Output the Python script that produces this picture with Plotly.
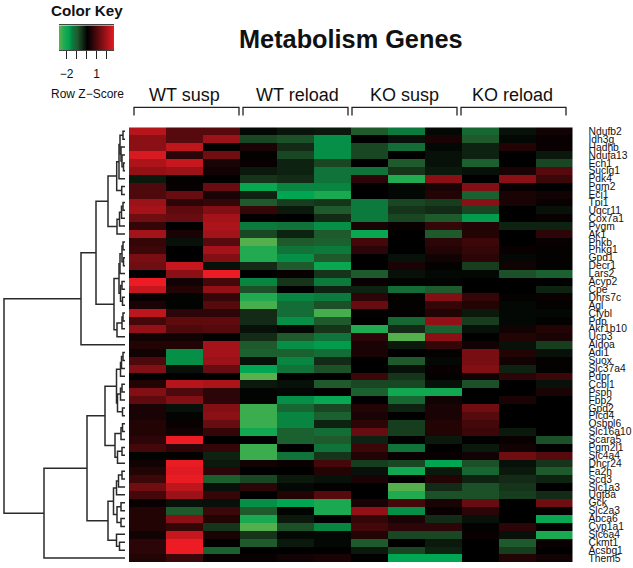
import plotly.graph_objects as go

W, H = 633, 568

genes = ["Ndufb2","Idh3g","Hadhb","Ndufa13","Ech1","Suclg1","Pdk4","Pgm2","Eci1","Tpi1","Uqcr11","Cox7a1","Pygm","Ak1",
         "Phkb","Phkg1","Gpd1","Decr1","Lars2","Acyp2","Cpe","Dhrs7c","Agl","Cfybl","Pdp","Akr1b10","Ucp3","Aldoa",
         "Adi1","Suox","Slc37a4","Pdpr","Ccbl1","Psph","Fbp2","Gpd2","Plcd4","Osbpl6","Slc16a10","Scara5","Pgm2l1",
         "Slc4a4","Dhcr24","Fa2h","Scd3","Slc1a3","Ugt8a","Gck","Slc2a3","Abca6","Cyp1a1","Slc6a4","Ckmt1","Acsbg1","Them5"]

group_names = ["WT susp", "WT reload", "KO susp", "KO reload"]

wt_susp = [[2.1,1.0,1.0],[1.6,1.0,1.8],[1.6,2.2,.05],[2.5,.5,1.3],[2.0,2.3,.3],[1.7,1.8,.2],[-.3,.05,.03],
           [.9,.1,1.2],[.9,1.2,.3],[1.8,.5,.6],[1.9,1.1,1.5],[1.3,1.2,1.9],[.6,0,2.0],[1.9,.3,1.9],
           [.6,-.2,1.0],[.7,0,1.9],[1.4,0,1.5],[1.3,2.3,-.2],[0,1.6,2.75],[2.75,.2,.8],[2.3,.4,1.7],
           [.1,-.05,.6],[.3,-.05,1.0],[2.2,.5,.5],[.8,1.1,1.1],[1.7,.9,1.0],[.2,.2,.05],[.4,.4,1.9],
           [.2,-1.7,1.9],[.9,-1.7,1.8],[1.5,-.2,1.2],[0,0,0],[.4,2.1,2.0],[1.5,.9,.5],[1.1,1.5,.5],
           [.3,-.2,1.5],[.3,-.05,1.6],[.4,.1,1.2],[.4,.2,.6],[.5,2.75,0],[.8,.5,.6],[-.05,.05,-.4],
           [.2,2.7,-.3],[.4,2.6,.5],[.7,2.7,-1.1],[1.3,2.2,-.2],[.8,1.8,.6],[.1,-.2,-.2],[.4,-1.0,.7],
           [.4,1.6,.4],[.4,.6,-.6],[.2,2.3,.3],[.5,2.75,0],[.5,2.75,-1.1],[.4,.7,.1]]

wt_reload = [[-.1,-.25,-.3],[-.8,-.9,-1.7],[.3,-.5,-1.7],[.05,-.8,-1.7],[.1,-.4,-.8],[-.3,-.4,-1.4],[-.6,-.5,-1.4],
             [-2.0,-1.6,-1.6],[-.4,-1.9,-2.2],[-1.0,-.7,-.6],[.6,-.3,-1.0],[.05,0,-.5],[-1.5,-1.4,-1.7],[-.8,-.4,-1.0],
             [-2.7,-1.0,-1.1],[-2.3,-1.4,-1.5],[-2.3,-1.7,-1.0],[-.5,-1.0,-2.0],[0,.1,-.6],[-1.6,-.6,-1.5],[-.9,0,-.4],
             [-2.3,-1.6,-1.5],[-2.6,-1.3,-.9],[-.5,-1.3,-2.6],[-.5,-1.7,-1.0],[-.2,-.1,-.6],[-.5,-1.0,-1.4],[-1.0,-1.7,-1.8],
             [-1.1,-1.1,-1.3],[-.2,-1.6,-.5],[-1.9,-1.4,-.9],[-2.75,0,0],[-.3,-.2,-1.0],[-.05,-.1,.05],[-.05,-1.7,-2.0],
             [-2.5,-1.2,-.8],[-2.5,-1.6,-1.1],[-2.5,-1.6,-.4],[-2.1,-1.1,-1.3],[0,-1.1,-1.0],[-2.5,0,-1.4],[-2.5,-1.4,-.6],
             [.2,.1,.8],[0,0,.4],[-.8,-.3,-.2],[.5,-.1,.05],[0,.4,1.0],[-1.7,-1.9,-2.2],[-1.0,-.05,-2.2],
             [-2.2,-.3,0],[-2.7,-.9,-1.6],[-.6,-.1,-.1],[-1.0,-.3,-.1],[0,0,0],[.1,.2,.3]]

ko_susp = [[-1.0,-1.5,-.1],[0,-.2,.3],[-.8,-1.3,-.1],[-.8,0,-.2],[0,-1.0,-.2],[-1.4,-.6,-.3],[.5,-2.3,1.6],
           [0,-.1,.3],[0,-.1,.4],[-1.5,-.8,-.7],[-1.5,-.6,-.5],[-1.5,-.8,-1.0],[.3,.1,.6],[-2.0,0,-1.0],
           [.8,0,.5],[.5,0,.4],[0,-.2,.2],[0,.3,.05],[-1.0,-.2,-.1],[.1,-.05,-.05],[-.4,-1.3,-1.0],
           [.5,.05,1.5],[1.2,.05,.6],[.05,.05,.4],[0,-1.2,1.7],[-2.3,-.5,-1.1],[.5,-2.7,1.6],[.3,-.3,.6],
           [.3,0,.05],[0,-1.0,-.1],[0,-.2,.1],[.7,-.6,.05],[-.8,-.8,-.2],[-1.1,-2.1,-2.1],[0,-1.2,.2],
           [.4,-.4,.3],[.3,0,.3],[.5,-.7,.4],[1.2,-.7,.4],[-.4,0,-.3],[.7,-1.4,0],[.4,.1,.1],
           [-.7,-.8,-1.9],[-.2,-2.1,-.3],[.3,0,.4],[0,-2.7,-.5],[0,-2.3,-.9],[.3,.8,.3],[1.7,-1.7,.1],
           [.6,.3,-.5],[.8,.5,.5],[.4,-.8,-.8],[-1.0,0,-.3],[-.3,-.8,-.4],[0,-1.9,-1.9]]

ko_reload = [[-1.2,-.2,.2],[-1.0,-.1,.1],[-.4,.4,.1],[-.4,0,-.3],[-1.1,0,-.8],[-.2,.3,1.0],[0,1.6,.7],
             [1.5,.1,0],[-1.1,.3,.2],[1.6,.3,.1],[-.8,0,-.2],[-1.8,0,.1],[.4,-.4,-.4],[.4,0,.5],
             [.7,0,.1],[.6,.1,.05],[.5,-.1,.05],[-.7,.2,.05],[-.1,-.9,-1.1],[0,0,0],[0,0,-.4],
             [.6,.05,.1],[.4,-.1,.05],[-.3,-.1,-.1],[-.7,-.1,.05],[-.2,.2,.4],[0,.4,.3],[.2,-.2,-.7],
             [1.4,.4,-.2],[1.4,.2,.05],[1.5,-.4,.05],[.2,.5,.7],[-.9,0,-.2],[0,0,.3],[0,.3,0],
             [1.3,0,0],[1.0,0,0],[.8,0,0],[.7,-.3,0],[0,.1,-.9],[-.3,.2,0],[.2,1.3,1.0],
             [-.9,-.2,-.6],[-1.2,-.3,-1.0],[-.4,-.5,-.4],[-.9,-.6,0],[-.9,-.7,-.5],[1.2,0,1.3],[.5,0,.05],
             [-.2,0,-2.0],[.05,.5,-.05],[.1,-.2,-2.2],[0,-1.0,.1],[0,-.7,0],[0,.4,.2]]

# Row dendrogram as nested (height, upper, lower); integers are row indices
row_tree = (121,
    (44,
        (29,
            (17,
                (8.3,
                    (6,
                        (5, (2, 0, 1), (4, 2, (3, 3, (1.5, 4, 5)))),
                        6),
                    (3.3, 7, 8)),
                (8, (5.5, (3.5, (2, 9, 10), 11), 12), 13)),
            (11,
                (6,
                    (5, (3, (2, 14, 15), (1.5, 16, 17)), 18),
                    (4.5, (3, 19, 20), (2.5, 21, 22))),
                (8, (3, (2, 23, 24), 25), 26))),
        27),
    (81,
        (38,
            (20,
                (8.5,
                    (4.5, (3.5, (2, 28, 29), 30), 31),
                    (7.5, (4.5, (3, 32, 33), 34), (2.5, 35, 36))),
                (10,
                    (4, (2.5, 37, 38), 39),
                    (7.5, (3, 40, 41), 42))),
            (17,
                (11.5,
                    (8.5, (6.5, (3, 43, 44), 45), 46),
                    (8, (4, 47, 48), (4, 49, 50))),
                (8.5, 51, (5.5, 52, 53)))),
        54))

key_values = [-2.75, -2.25, -1.9, -1.5, -1.0, -0.5, 0, 0.5, 1.0, 1.5, 2.0, 2.4, 2.75]
key_ticks = [-2, -1, 0, 1, 2]
key_tick_labels = ["\u22122", "", "", "1", ""]

ZR = 2.75
def stop(v):
    return (v + ZR) / (2 * ZR)
colorscale = [[stop(-2.75), "#5ab04c"], [stop(-2.3), "#22aa50"], [stop(-1.9), "#00a651"], [stop(-1.5), "#0c7a3d"],
              [stop(-1.0), "#1f5a2c"], [stop(-0.5), "#122a16"], [stop(0), "#000000"], [stop(2.75), "#ed1c24"]]

z = [a + b + c + d for a, b, c, d in zip(wt_susp, wt_reload, ko_susp, ko_reload)]

def X(p): return p / W
def Y(p): return 1 - p / H

HM_L, HM_R, HM_T, HM_B = 129, 572.5, 127, 564

fig = go.Figure()
fig.add_trace(go.Heatmap(z=z, x=list(range(12)), y=genes, zmin=-ZR, zmax=ZR, colorscale=colorscale,
                         showscale=False, xaxis="x", yaxis="y", hoverongaps=False))

# dendrogram segments from the tree
xs, ys = [], []
def walk(node):
    if isinstance(node, int):
        return node, 0
    h, a, b = node
    ya, ha = walk(a)
    yb, hb = walk(b)
    xs.extend([ha, h, h, hb, None])
    ys.extend([ya, ya, yb, yb, None])
    return (ya + yb) / 2, h
walk(row_tree)
fig.add_trace(go.Scatter(x=xs, y=ys, mode="lines", line=dict(color="#2a2a2a", width=1.5),
                         xaxis="x2", yaxis="y2", hoverinfo="skip", showlegend=False))

fig.add_trace(go.Heatmap(z=[key_values], x=key_values, y=[0], zmin=-ZR, zmax=ZR, colorscale=colorscale,
                         zsmooth="best", showscale=False, xaxis="x3", yaxis="y3"))

font = "Liberation Sans, Arial, sans-serif"
fig.update_layout(
    width=W, height=H, margin=dict(l=0, r=0, t=0, b=0), paper_bgcolor="white", plot_bgcolor="white",
    showlegend=False, font=dict(family=font, color="#111111"),
    xaxis=dict(domain=[X(HM_L), X(HM_R)], range=[-0.5, 11.5], visible=False, anchor="y"),
    yaxis=dict(domain=[Y(HM_B), Y(HM_T)], type="category", autorange="reversed", side="right", anchor="x",
               tickmode="array", tickvals=genes, ticktext=genes,
               tickfont=dict(size=10.3, color="#111111", family=font),
               showline=False, showgrid=False, ticks="", ticklabelstandoff=15, zeroline=False),
    xaxis2=dict(domain=[0, X(HM_L)], range=[125, -4], visible=False, anchor="y2"),
    yaxis2=dict(domain=[Y(HM_B), Y(HM_T)], range=[54.5, -0.5], visible=False, anchor="x2"),
    xaxis3=dict(domain=[X(59), X(114)], range=[-ZR, ZR], anchor="y3", side="bottom", tickmode="array",
                tickvals=key_ticks, ticktext=key_tick_labels, ticks="outside", ticklen=8, tickcolor="#222222",
                tickwidth=1, tickfont=dict(size=12), showgrid=False, zeroline=False,
                showline=True, linecolor="#444444", mirror=True, ticklabelstandoff=4),
    yaxis3=dict(domain=[Y(49.7), Y(24.5)], range=[-0.5, 0.5], visible=False, anchor="x3"),
)

def label(text, x, y, size, bold=False):
    fig.add_annotation(text=f"<b>{text}</b>" if bold else text, x=X(x), y=Y(y), xref="paper", yref="paper",
                       xanchor="center", yanchor="middle", showarrow=False, font=dict(size=size, family=font, color="#111111"))

label("Color Key", 87, 10, 15.2, True)
label("Metabolism Genes", 351, 38, 25.3, True)
label("Row Z\u2212Score", 87, 93, 12)
for name, cx in zip(group_names, [184, 297, 405, 512]):
    label(name, cx, 95, 18)

for i in range(4):
    x0 = 134 + 109 * i
    x1 = x0 + 105
    fig.add_shape(type="path", xref="paper", yref="paper",
                  path=f"M {X(x0)} {Y(115)} L {X(x0)} {Y(107)} L {X(x1)} {Y(107)} L {X(x1)} {Y(115)}",
                  line=dict(color="#222222", width=1.3))

fig.write_html("out.html", config={"displayModeBar": False}, post_script="document.body.style.margin='0';")
